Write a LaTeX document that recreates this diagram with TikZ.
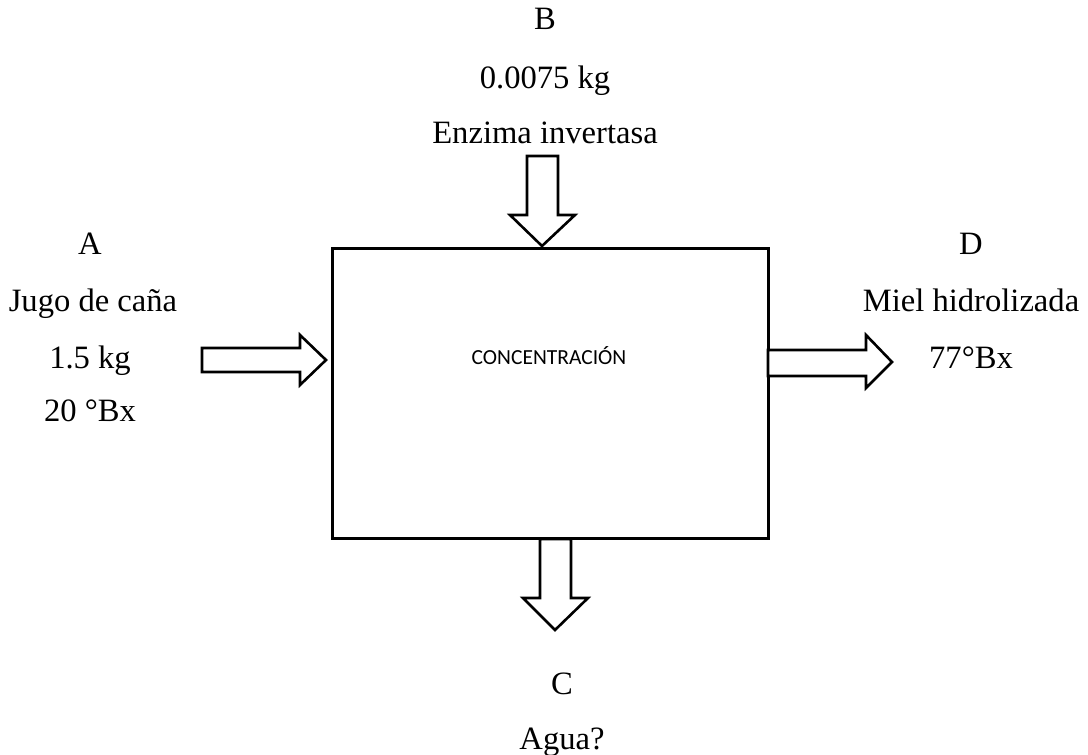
\documentclass[tikz,border=0pt]{standalone}
\usepackage{fontspec}
\setmainfont{Liberation Serif}
\newfontfamily\boxfont{Carlito}
\begin{document}
\begin{tikzpicture}[x=1pt,y=-1pt,
  lbl/.style={anchor=base,inner sep=0pt,font=\fontsize{32.6}{38}\selectfont},
  blockarrow/.style={draw=black,line width=2.6pt,fill=white,line join=miter}]
\useasboundingbox (0,0) rectangle (1088,755);
\node[draw=black,line width=2.5pt,minimum width=436pt,minimum height=290pt,inner sep=0pt,anchor=north west] (box) at (331,247) {};
\node[anchor=base,inner sep=0pt,font=\boxfont\fontsize{21.5}{26}\selectfont] (boxlbl) at (549,364) {CONCENTRACIÓN};
% top arrow
\draw[blockarrow] (527,156) -- (558,156) -- (558,215) -- (575,215) -- (542,246) -- (510,215) -- (527,215) -- cycle;
% left arrow
\draw[blockarrow] (202,348) -- (300,348) -- (300,335) -- (326,360) -- (300,385) -- (300,372) -- (202,372) -- cycle;
% right arrow
\draw[blockarrow] (768,350) -- (866,350) -- (866,335) -- (892,362) -- (866,388) -- (866,376) -- (768,376) -- cycle;
% bottom arrow
\draw[blockarrow] (540,539) -- (571,539) -- (571,598) -- (588,598) -- (555,630) -- (523,598) -- (540,598) -- cycle;
% texts
\node[lbl] (b1) at (545,29) {B};
\node[lbl] (b2) at (545,88) {0.0075 kg};
\node[lbl] (b3) at (545,143) {Enzima invertasa};
\node[lbl] (a1) at (90,254) {A};
\node[lbl] (a2) at (93,311) {Jugo de caña};
\node[lbl] (a3) at (90,368) {1.5 kg};
\node[lbl] (a4) at (90,421) {20 °Bx};
\node[lbl] (d1) at (971,254) {D};
\node[lbl] (d2) at (971,311) {Miel hidrolizada};
\node[lbl] (d3) at (971,368) {77°Bx};
\node[lbl] (c1) at (562,694) {C};
\node[lbl] (c2) at (562,749) {Agua?};
\end{tikzpicture}
\end{document}
